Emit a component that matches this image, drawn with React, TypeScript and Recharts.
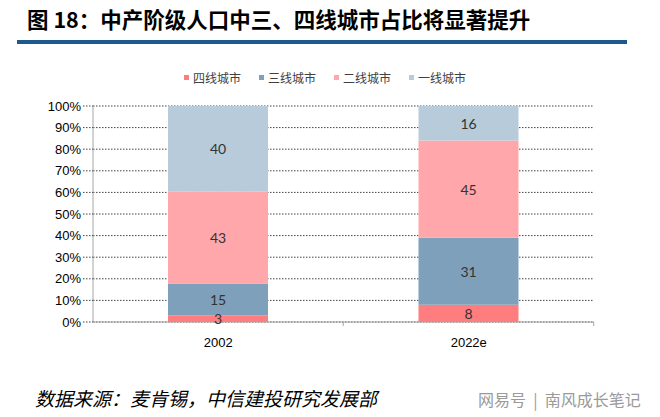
import React from "react";
import { BarChart, Bar, XAxis, YAxis, CartesianGrid, LabelList } from "recharts";

const years = ["2002", "2022e"];
const tier4 = [3, 8];
const tier3 = [15, 31];
const tier2 = [43, 45];
const tier1 = [40, 16];
const yTicks = [0, 0.1, 0.2, 0.3, 0.4, 0.5, 0.6, 0.7, 0.8, 0.9, 1];

const series = [
  { key: "t4", name: "四线城市", color: "#FF7C7F", values: tier4 },
  { key: "t3", name: "三线城市", color: "#7FA0BA", values: tier3 },
  { key: "t2", name: "二线城市", color: "#FFA7AA", values: tier2 },
  { key: "t1", name: "一线城市", color: "#B7CBDB", values: tier1 },
];

const data = years.map((year, i) => {
  const row: Record<string, string | number> = { year };
  series.forEach((s) => (row[s.key] = s.values[i]));
  return row;
});

const cjk = '"Noto Sans CJK SC", "Liberation Sans", sans-serif';

const makeLabel = (values: number[]) => (props: any) => {
  const { x, y, width, height, index } = props;
  return (
    <text
      x={x + width / 2}
      y={y + height / 2}
      textAnchor="middle"
      dominantBaseline="central"
      fontSize={14}
      fontFamily="Lato, 'Liberation Sans', sans-serif"
      fill="#333"
    >
      {values[index]}
    </text>
  );
};

const CategoryTick = (props: any) => {
  const { x, y, payload } = props;
  const half = 125;
  return (
    <g>
      <line x1={x + half} y1={y} x2={x + half} y2={y + 4} stroke="#A6A6A6" />
      <text
        x={x}
        y={y + 20}
        textAnchor="middle"
        dominantBaseline="central"
        fontSize={13}
        fontFamily="'Liberation Sans', Arial, sans-serif"
        fill="#000"
      >
        {payload.value}
      </text>
    </g>
  );
};

export default function App() {
  return (
    <div
      style={{
        position: "fixed",
        left: 0,
        top: 0,
        width: 660,
        height: 417,
        background: "#fff",
        overflow: "hidden",
      }}
    >
      <div
        style={{
          position: "absolute",
          left: 27,
          top: 3,
          fontFamily: cjk,
          fontWeight: 700,
          fontSize: 21.5,
          color: "#000",
          whiteSpace: "nowrap",
        }}
      >
        图 18：中产阶级人口中三、四线城市占比将显著提升
      </div>
      <div
        style={{
          position: "absolute",
          left: 17,
          top: 40,
          width: 610,
          height: 4,
          background: "#1C5A8E",
        }}
      />
      <div
        style={{
          position: "absolute",
          left: 184,
          top: 69,
          display: "flex",
          gap: 18,
          fontFamily: cjk,
          fontSize: 12,
          color: "#404040",
          whiteSpace: "nowrap",
        }}
      >
        {series.map((s) => (
          <div key={s.key} style={{ display: "flex", alignItems: "center" }}>
            <span
              style={{
                display: "inline-block",
                width: 5,
                height: 5,
                background: s.color,
                marginRight: 4,
              }}
            />
            {s.name}
          </div>
        ))}
      </div>
      <div style={{ position: "absolute", left: 0, top: 0 }}>
        <BarChart
          width={660}
          height={417}
          data={data}
          stackOffset="expand"
          margin={{ top: 106, right: 66, bottom: 65, left: 0 }}
          barSize={100}
        >
          <CartesianGrid
            horizontal
            vertical={false}
            stroke="#444"
            strokeDasharray="1.5 1.5"
          />
          <XAxis
            dataKey="year"
            height={30}
            tickLine={false}
            tickSize={0}
            tickMargin={0}
            axisLine={{ stroke: "#A6A6A6" }}
            tick={<CategoryTick />}
            interval={0}
          />
          <YAxis
            width={93}
            domain={[0, 1]}
            ticks={yTicks}
            interval={0}
            tickFormatter={(v: number) => `${Math.round(v * 100)}%`}
            axisLine={{ stroke: "#A6A6A6" }}
            tickLine={{ stroke: "#444", strokeDasharray: "1.5 1.5" }}
            tickSize={10}
            tickMargin={2}
            tick={{ fontSize: 13, fill: "#000", fontFamily: "'Liberation Sans', Arial, sans-serif" }}
          />
          {series.map((s) => (
            <Bar key={s.key} dataKey={s.key} name={s.name} stackId="a" fill={s.color} isAnimationActive={false}>
              <LabelList content={makeLabel(s.values)} />
            </Bar>
          ))}
        </BarChart>
      </div>
      <div
        style={{
          position: "absolute",
          left: 35,
          top: 384,
          fontFamily: cjk,
          fontStyle: "italic",
          fontSize: 19,
          color: "#000",
          whiteSpace: "nowrap",
        }}
      >
        数据来源：麦肯锡，中信建投研究发展部
      </div>
      <div
        style={{
          position: "absolute",
          left: 478,
          top: 387,
          fontFamily: cjk,
          fontSize: 16,
          color: "#9a9a9a",
          whiteSpace: "pre",
        }}
      >
        {"网易号  |  南风成长笔记"}
      </div>
    </div>
  );
}
